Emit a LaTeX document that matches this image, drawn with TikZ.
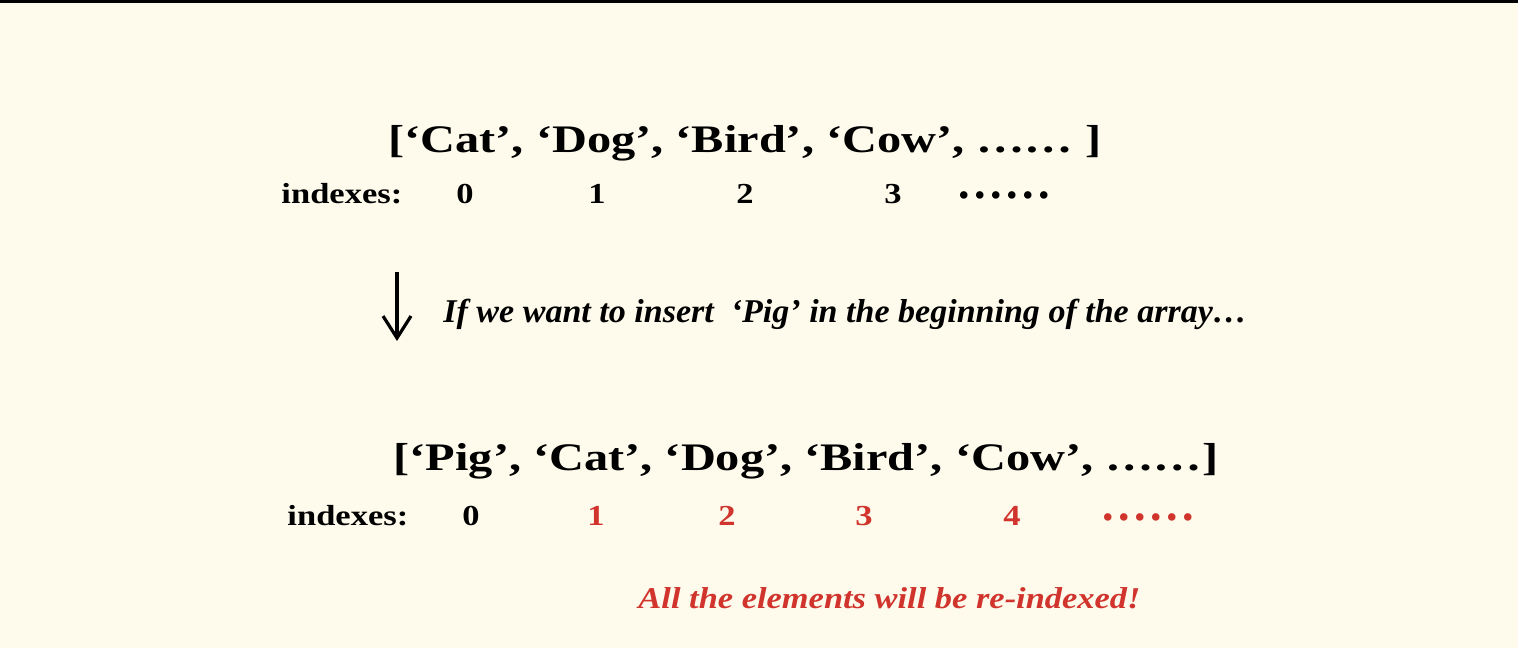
\documentclass[tikz,border=0pt]{standalone}
\usepackage{fontspec}
\setmainfont{Liberation Serif}
\usetikzlibrary{arrows.meta}
\definecolor{bgcream}{RGB}{254,250,236}
\definecolor{redidx}{RGB}{208,52,44}
\newcommand{\sixdotsrow}{.\hspace{2.2pt}.\hspace{2.2pt}.\hspace{2.2pt}.\hspace{2.2pt}.\hspace{2.2pt}.}
\begin{document}
\begin{tikzpicture}[x=0.5pt,y=-0.5pt,
  listtxt/.style={inner sep=0pt,anchor=base,xscale=1.24,font=\fontsize{19.5}{22}\selectfont\bfseries},
  idxtxt/.style={inner sep=0pt,anchor=base,xscale=1.19,font=\fontsize{14.5}{16}\selectfont\bfseries},
  redidxtxt/.style={idxtxt,text=redidx},
  dotstxt/.style={inner sep=0pt,anchor=base,font=\fontsize{23}{25}\selectfont\bfseries},
  notetxt/.style={inner sep=0pt,anchor=base west,xscale=1.025,font=\fontsize{16.6}{19}\selectfont\bfseries\itshape},
  warntxt/.style={inner sep=0pt,anchor=base west,xscale=1.14,font=\fontsize{15.1}{18}\selectfont\bfseries\itshape,text=redidx}]
\fill[bgcream] (0,0) rectangle (1518,648);
\useasboundingbox (0,0) rectangle (1518,648);
\fill[black] (0,0) rectangle (1518,2.5);
% row 1
\node[listtxt] (l1) at (745,152) {[‘Cat’, ‘Dog’, ‘Bird’, ‘Cow’, …… ]};
\node[idxtxt,anchor=base west] (i1) at (281,203) {indexes:};
\node[idxtxt] (a0) at (465,203) {0};
\node[idxtxt] (a1) at (597,203) {1};
\node[idxtxt] (a2) at (745,203) {2};
\node[idxtxt] (a3) at (893,203) {3};
\node[dotstxt] (a4) at (1004,198) {\sixdotsrow};
% arrow and note
\coordinate (ar1) at (397,272);
\coordinate (ar2) at (397,341);
\draw[line width=1.6pt,-{Straight Barb[length=11pt,width=14pt,line width=1.6pt]}] (ar1) -- (ar2);
\node[notetxt] (note) at (443,322) {If we want to insert\ \ ‘Pig’ in the beginning of the array…};
% row 2
\node[listtxt] (l2) at (806,470) {[‘Pig’, ‘Cat’, ‘Dog’, ‘Bird’, ‘Cow’, ……]};
\node[idxtxt,anchor=base west] (i2) at (287,525) {indexes:};
\node[idxtxt] (b0) at (471,525) {0};
\node[redidxtxt] (b1) at (596,525) {1};
\node[redidxtxt] (b2) at (727,525) {2};
\node[redidxtxt] (b3) at (864,525) {3};
\node[redidxtxt] (b4) at (1012,525) {4};
\node[dotstxt,text=redidx] (b5) at (1148,520) {\sixdotsrow};
\node[warntxt] (warn) at (638,608) {All the elements will be re-indexed!};
\end{tikzpicture}
\end{document}
